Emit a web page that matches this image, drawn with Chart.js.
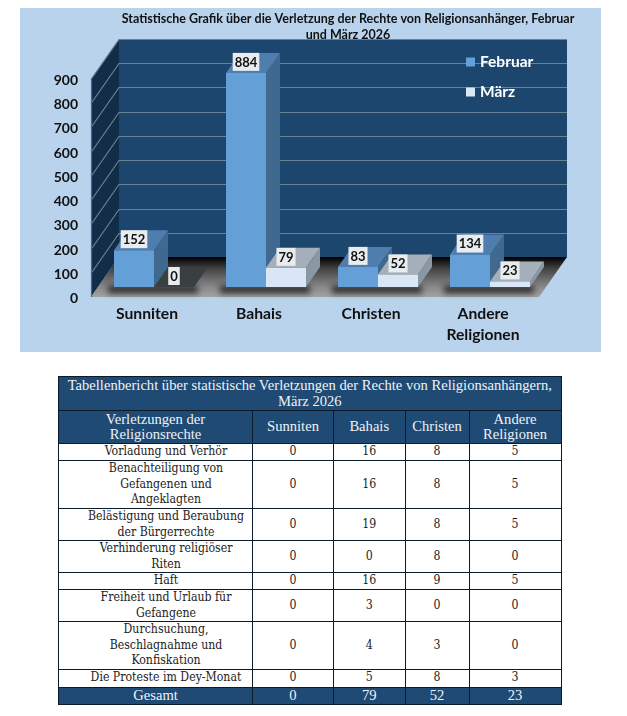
<!DOCTYPE html>
<html lang="de">
<head>
<meta charset="utf-8">
<title>Statistische Grafik</title>
<script src="https://cdn.jsdelivr.net/npm/chart.js@4"></script>
<style>
body { margin: 0; background: #fff; width: 627px; height: 716px; position: relative; overflow: hidden; }
#chart_box { position: absolute; left: 20px; top: 8px; width: 581px; height: 344px; background: #b9d3ed; }
#report { position: absolute; left: 58px; top: 376px; width: 503px; border-collapse: collapse; table-layout: fixed;
  font-family: "DejaVu Serif Condensed", "DejaVu Serif", serif; font-size: 12.2px; line-height: 15.5px; color: #222; }
#report td, #report th { border: 1px solid #0b1b2b; padding: 0; text-align: center; vertical-align: middle; font-weight: normal; overflow: hidden; }
#report td.name { padding-left: 21px; }
#report .dark { background: #1f4a73; color: #eef3f8; font-family: "Liberation Serif", serif; font-size: 14.6px; line-height: 15.5px; }
</style>
</head>
<body>
<div id="chart_box"><canvas id="graph_canvas" width="581" height="344"></canvas></div>
<table id="report"></table>
<script>
const categories = ['Sunniten', 'Bahais', 'Christen', ['Andere', 'Religionen']];
const februar = [152, 884, 83, 134];
const maerz = [0, 79, 52, 23];
const yTicks = [0, 100, 200, 300, 400, 500, 600, 700, 800, 900];
const chartTitle = ['Statistische Grafik über die Verletzung der Rechte von Religionsanhänger, Februar', 'und März 2026'];

const tableTitle = ['Tabellenbericht über statistische Verletzungen der Rechte von Religionsanhängern,', 'März 2026'];
const tableHead = [['Verletzungen der', 'Religionsrechte'], ['Sunniten'], ['Bahais'], ['Christen'], ['Andere', 'Religionen']];
const violations = [
  ['Vorladung und Verhör'],
  ['Benachteiligung von', 'Gefangenen und', 'Angeklagten'],
  ['Belästigung und Beraubung', 'der Bürgerrechte'],
  ['Verhinderung religiöser', 'Riten'],
  ['Haft'],
  ['Freiheit und Urlaub für', 'Gefangene'],
  ['Durchsuchung,', 'Beschlagnahme und', 'Konfiskation'],
  ['Die Proteste im Dey-Monat']
];
const sunniten = [0, 0, 0, 0, 0, 0, 0, 0];
const bahais = [16, 16, 19, 0, 16, 3, 4, 5];
const christen = [8, 8, 8, 8, 9, 0, 3, 8];
const andere = [5, 5, 5, 0, 5, 0, 0, 3];
const totals = ['Gesamt', 0, 79, 52, 23];

const colWidths = [194, 81, 71.5, 64, 92];
const rowHeights = [17, 48, 32, 31, 17, 32, 47, 18];

// table
var report = document.getElementById('report');
var html = '<colgroup>' + colWidths.map(w => `<col style="width:${w}px">`).join('') + '</colgroup>';
html += `<tr style="height:34px"><td class="dark" colspan="5">${tableTitle.join('<br>')}</td></tr>`;
html += '<tr style="height:33px">' + tableHead.map(h => `<th class="dark">${h.join('<br>')}</th>`).join('') + '</tr>';
for (var i = 0; i < violations.length; i++) {
  html += `<tr style="height:${rowHeights[i]}px"><td class="name">${violations[i].join('<br>')}</td>` +
    `<td>${sunniten[i]}</td><td>${bahais[i]}</td><td>${christen[i]}</td><td>${andere[i]}</td></tr>`;
}
html += '<tr style="height:17px">' + totals.map(t => `<td class="dark">${t}</td>`).join('') + '</tr>';
report.innerHTML = html;

// 3d look, the chart itself only has flat bars
const wallDx = 28, wallDy = -40;   // depth of the room
const barDx = 14, barDy = -20;     // depth of one bar
const shiftX = 7, shiftY = -10;    // bars stand a bit behind the front edge
const faceColors = [
  { front: '#659fd8', top: '#4f7eae', side: '#40698f' },
  { front: '#d8e6f6', top: '#a4afba', side: '#8a98a5' }
];

function poly(c, pts, fill) {
  c.beginPath();
  c.moveTo(pts[0][0], pts[0][1]);
  for (var i = 1; i < pts.length; i++) c.lineTo(pts[i][0], pts[i][1]);
  c.closePath();
  c.fillStyle = fill;
  c.fill();
}

const room = {
  id: 'room',
  afterLayout(chart) {
    // title is centred over the room, not over the canvas
    chart.titleBlock.left = 38;
    chart.titleBlock.right = 618;
  },
  beforeDraw(chart) {
    const c = chart.ctx, a = chart.chartArea, y = chart.scales.y;
    const y0 = y.getPixelForValue(0), yTop = y.getPixelForValue(900);
    c.save();
    // back wall
    poly(c, [[a.left + wallDx, yTop + wallDy], [a.right + wallDx, yTop + wallDy], [a.right + wallDx, y0 + wallDy], [a.left + wallDx, y0 + wallDy]], '#1d466e');
    // side wall
    poly(c, [[a.left, y0], [a.left + wallDx, y0 + wallDy], [a.left + wallDx, yTop + wallDy], [a.left, yTop]], '#122d47');
    // floor
    var g = c.createLinearGradient(0, y0 + wallDy, 0, y0);
    g.addColorStop(0, '#000');
    g.addColorStop(0.3, '#444');
    g.addColorStop(0.75, '#8a8a8a');
    g.addColorStop(1, '#a3a3a3');
    poly(c, [[a.left, y0], [a.left + wallDx, y0 + wallDy], [a.right + wallDx, y0 + wallDy], [a.right, y0]], g);
    // grid lines
    c.strokeStyle = '#6b8195';
    c.lineWidth = 1.2;
    yTicks.forEach(v => {
      if (v === 0) return;
      var p = Math.round(y.getPixelForValue(v)) + 0.5;
      c.beginPath();
      c.moveTo(a.left, p);
      c.lineTo(a.left + wallDx, p + wallDy);
      c.lineTo(a.right + wallDx, p + wallDy);
      c.stroke();
    });
    c.strokeStyle = '#3b68ad';
    c.beginPath();
    c.moveTo(a.left + 0.5, y0);
    c.lineTo(a.left + 0.5, yTop);
    c.stroke();
    c.restore();
  },
  beforeDatasetsDraw(chart) {
    const c = chart.ctx;
    c.save();
    c.translate(shiftX, shiftY);
    const metaF = chart.getDatasetMeta(0).data, metaM = chart.getDatasetMeta(1).data;
    // soft shadow on the floor
    c.save();
    c.filter = 'blur(3px)';
    c.fillStyle = 'rgba(0,0,0,0.75)';
    metaF.forEach((b, i) => {
      var l = b.x - b.width / 2, r = metaM[i].x + metaM[i].width / 2;
      c.fillRect(l - 6, b.base - 1, r - l + 10, 7);
    });
    c.restore();
    // extrusions first, the library draws the front faces over them
    [metaF, metaM].forEach((bars, ds) => {
      bars.forEach((b, i) => {
        var l = b.x - b.width / 2, r = b.x + b.width / 2;
        var isZero = chart.data.datasets[ds].data[i] === 0;
        var col = faceColors[ds];
        if (!isZero) {
          poly(c, [[r, b.y], [r + barDx, b.y + barDy], [r + barDx, b.base + barDy], [r, b.base]], col.side);
        }
        poly(c, [[l, b.y], [l + barDx, b.y + barDy], [r + barDx, b.y + barDy], [r, b.y]], isZero ? '#3a3f42' : col.top);
      });
    });
  },
  afterDatasetsDraw(chart) {
    const c = chart.ctx;
    c.font = 'bold 13px Lato';
    c.textAlign = 'center';
    c.textBaseline = 'middle';
    chart.data.datasets.forEach((d, ds) => {
      chart.getDatasetMeta(ds).data.forEach((b, i) => {
        var txt = String(d.data[i]), w = c.measureText(txt).width + 4, cy = b.y - 11;
        c.fillStyle = '#e8ecef';
        c.fillRect(b.x - w / 2, cy - 9, w, 18);
        c.fillStyle = '#111';
        c.fillText(txt, b.x, cy + 0.5);
      });
    });
    c.restore();
  },
  afterDraw(chart) {
    // legend stands inside the room
    const c = chart.ctx;
    const legendY = [54, 84];
    c.save();
    c.font = 'bold 15.5px Lato';
    c.textBaseline = 'middle';
    c.textAlign = 'left';
    chart.data.datasets.forEach((d, i) => {
      c.fillStyle = d.backgroundColor;
      c.fillRect(446, legendY[i] - 4.5, 9, 9);
      c.fillStyle = '#fff';
      c.fillText(d.label, 460, legendY[i]);
    });
    c.restore();
  }
};

const config = {
  type: 'bar',
  data: {
    labels: categories,
    datasets: [
      { label: 'Februar', data: februar, backgroundColor: faceColors[0].front, clip: false },
      { label: 'März', data: maerz, backgroundColor: faceColors[1].front, clip: false }
    ]
  },
  plugins: [room],
  options: {
    responsive: false,
    animation: false,
    devicePixelRatio: 1,
    layout: { padding: { right: 62 } },
    datasets: { bar: { categoryPercentage: 80 / 112, barPercentage: 1 } },
    plugins: {
      legend: { display: false },
      tooltip: { enabled: false },
      title: {
        display: true,
        text: chartTitle,
        color: '#111',
        font: { family: 'Lato', weight: 'bold', size: 12.5, lineHeight: 16 / 12.5 },
        padding: { top: 3, bottom: 36 }
      }
    },
    scales: {
      x: {
        grid: { display: false, drawTicks: false },
        border: { display: false },
        ticks: { color: '#111', font: { family: 'Lato', weight: 'bold', size: 15.7, lineHeight: 21 / 15.7 }, padding: 6.5, maxRotation: 0, autoSkip: false },
        afterFit(s) { s.height = 55; }
      },
      y: {
        min: 0,
        max: 900,
        grid: { display: false, drawTicks: false },
        border: { display: false },
        ticks: { stepSize: 100, color: '#111', font: { family: 'Lato', weight: 'bold', size: 14 }, padding: 13, labelOffset: 1.5 },
        afterFit(s) { s.width = 71; }
      }
    }
  }
};

var myChart = new Chart(document.getElementById('graph_canvas'), config);
</script>
</body>
</html>
